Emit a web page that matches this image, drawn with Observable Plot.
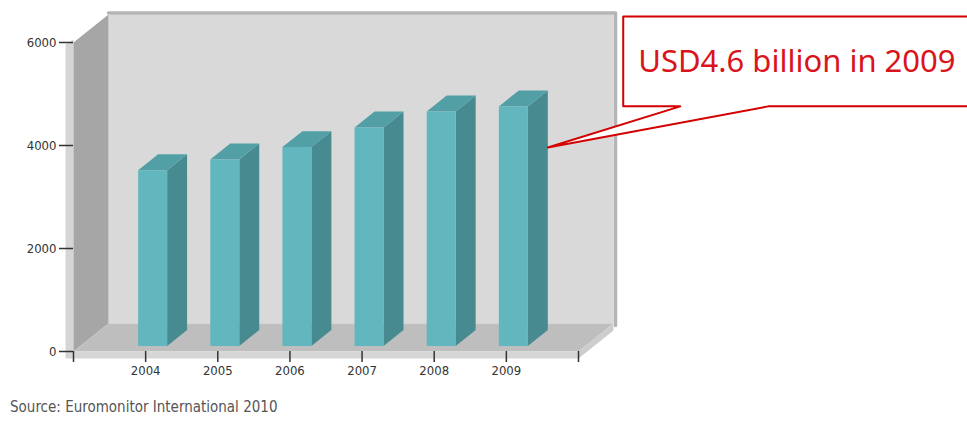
<!DOCTYPE html>
<html><head><meta charset="utf-8">
<script src="https://cdn.jsdelivr.net/npm/d3@7"></script>
<script src="https://cdn.jsdelivr.net/npm/@observablehq/plot@0.6"></script>
<style>
body{margin:0;background:#fff;}
#chart svg{display:block;}
#caption{font-family:"DejaVu Sans Condensed","DejaVu Sans",sans-serif;font-size:15px;color:#555;margin:9px 0 0 10px;line-height:17px;}
</style></head><body>
<div id="chart"></div>
<div id="caption"></div>
<script>
// ---- data ----
const years = [2004, 2005, 2006, 2007, 2008, 2009];
const values = [3410, 3620, 3860, 4240, 4550, 4650];
const yTicks = [0, 2000, 4000, 6000];
const calloutText = "USD4.6 billion in 2009";
const sourceText = "Source: Euromonitor International 2010";

// ---- layout ----
const W = 967, H = 390;
const mL = 73, mR = 389, mT = 42, mB = 39;
const xDomain = [2003, 2010], yDomain = [0, 6000];
const kx = (W - mL - mR) / (xDomain[1] - xDomain[0]);
const ky = (H - mT - mB) / (yDomain[1] - yDomain[0]);
const px = p => p / kx, py = p => p / ky;
const X0 = xDomain[0], X1 = xDomain[1], Y1 = yDomain[1];
const DX = px(35), DY = py(28);      // depth of the 3D box
const T = py(7);                      // slab thickness
const HW = px(14.5);                  // half bar width
const F0 = 0.2, F1 = 0.77;            // bar depth range (fraction)

let pid = 0;
function poly(pts) { const id = pid++; return pts.map(([x, y]) => ({id, x, y})); }
function polys(list) { return list.flat(); }

const backWall = poly([[X0+DX, DY], [X1+DX, DY], [X1+DX, Y1+DY], [X0+DX, Y1+DY]]);
const leftEdge = poly([[X0-px(8), -T], [X0, -T], [X0, Y1+py(3)], [X0-px(8), Y1-py(2)]]);
const leftWall = poly([[X0, 0], [X0+DX, DY], [X0+DX, Y1+DY], [X0, Y1]]);
const floor = poly([[X0, 0], [X0+DX, DY], [X1+DX, DY], [X1, 0]]);
const floorFront = poly([[X0, 0], [X1, 0], [X1, -T], [X0, -T]]);
const floorRight = poly([[X1, 0], [X1+DX, DY], [X1+DX, DY-T], [X1, -T]]);
const rim = [
  {x: X0+DX, y: Y1+DY+py(1.5)},
  {x: X1+DX+px(2), y: Y1+DY+py(1.5)},
  {x: X1+DX+px(2), y: DY-py(2)}
];

const bx = F0*DX, by = F0*DY, ddx = (F1-F0)*DX, ddy = (F1-F0)*DY;
const fronts = polys(years.map((yr, i) => poly([
  [yr-HW+bx, by], [yr+HW+bx, by], [yr+HW+bx, values[i]+by], [yr-HW+bx, values[i]+by]])));
const sides = polys(years.map((yr, i) => poly([
  [yr+HW+bx, by], [yr+HW+bx+ddx, by+ddy], [yr+HW+bx+ddx, values[i]+by+ddy], [yr+HW+bx, values[i]+by]])));
const tops = polys(years.map((yr, i) => poly([
  [yr-HW+bx, values[i]+by], [yr+HW+bx, values[i]+by], [yr+HW+bx+ddx, values[i]+by+ddy], [yr-HW+bx+ddx, values[i]+by+ddy]])));

// callout annotation (data units)
const last = years.length - 1;
const tipX = years[last] + HW + bx + ddx, tipY = 3960;
const boxX1 = 2010.62, boxX2 = 2015.6, boxY1 = 4760, boxY2 = 6505;
const baseA = 2011.41, baseB = 2012.63;
const callout = poly([[boxX1, boxY2], [boxX2, boxY2], [boxX2, boxY1], [baseB, boxY1], [tipX, tipY], [baseA, boxY1], [boxX1, boxY1]]);

const shape = (data, fill) => Plot.line(data, {x: "x", y: "y", z: "id", fill, stroke: "none", curve: "linear-closed"});

const tickFont = '"DejaVu Sans Condensed","DejaVu Sans",sans-serif';

const chart = Plot.plot({
  width: W, height: H,
  marginLeft: mL, marginRight: mR, marginTop: mT, marginBottom: mB,
  x: {type: "linear", domain: xDomain, label: null},
  y: {type: "linear", domain: yDomain, label: null},
  style: {fontFamily: tickFont, background: "#fff", overflow: "hidden"},
  marks: [
    shape(backWall, "#d9d9d9"),
    Plot.line(rim, {x: "x", y: "y", stroke: "#b5b5b5", strokeWidth: 3.5}),
    shape(leftEdge, "#d5d5d5"),
    shape(leftWall, "#a6a6a6"),
    shape(floor, "#bebebe"),
    shape(floorFront, "#d6d6d6"),
    shape(floorRight, "#cdcdcd"),
    shape(sides, "#478b91"),
    shape(tops, "#52a0a6"),
    shape(fronts, "#62b6bd"),
    Plot.axisY(yTicks, {label: null, tickSize: 14, tickPadding: 3, tickFormat: d => String(d), fontSize: 13, fill: "#333", stroke: "#333", strokeWidth: 1.5}),
    Plot.axisX(d3.range(X0, X1 + 1), {label: null, tickSize: 11, tickPadding: 3, tickFormat: d => years.includes(d) ? String(d) : "", fontSize: 13, fill: "#333", stroke: "#333", strokeWidth: 1.5}),
    Plot.line(callout, {x: "x", y: "y", z: "id", fill: "#fff", stroke: "#d40000", strokeWidth: 2, curve: "linear-closed"}),
    Plot.text([calloutText], {x: () => boxX1 + px(15), y: () => boxY2 - py(46), text: d => d, textAnchor: "start", fontSize: 31, fill: "#d9141c", fontFamily: '"Noto Sans",sans-serif'})
  ]
});
document.getElementById("chart").appendChild(chart);
document.getElementById("caption").textContent = sourceText;
</script>
</body></html>
